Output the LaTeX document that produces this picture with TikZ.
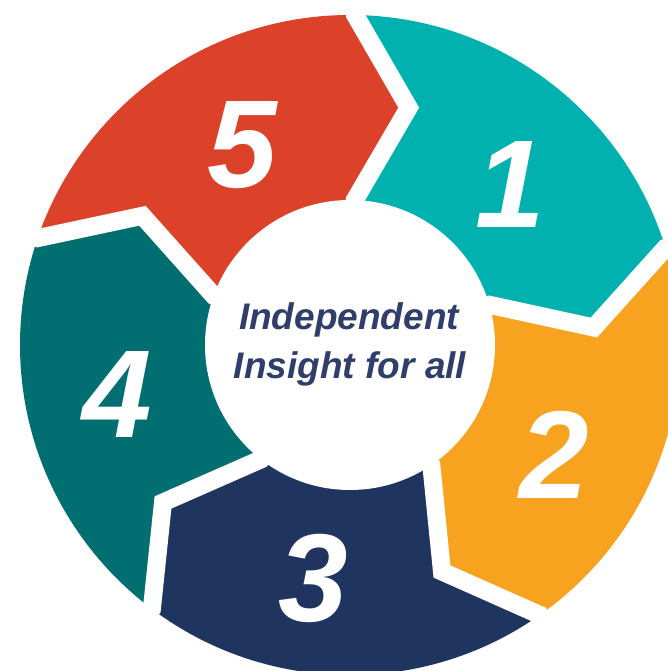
\documentclass[tikz,border=0pt]{standalone}
\usepackage{fontspec}
\setmainfont{Liberation Sans}
\definecolor{segA}{HTML}{00B1AF}
\definecolor{segB}{HTML}{F8A31F}
\definecolor{segC}{HTML}{1F3560}
\definecolor{segD}{HTML}{016F71}
\definecolor{segE}{HTML}{DC4229}
\definecolor{txtc}{HTML}{2F3E6B}
\tikzset{
  gapline/.style={white, line width=18, line join=miter, miter limit=10},
  digit/.style={text=white, inner sep=0pt, anchor=base, font=\fontsize{125}{125}\selectfont\bfseries\itshape},
  maintext/.style={text=txtc, inner sep=0pt, anchor=base, font=\fontsize{37}{37}\selectfont\bfseries\itshape}
}
\begin{document}
\begin{tikzpicture}[x=1pt,y=1pt]
\useasboundingbox (0,0) rectangle (668,671);
\clip (0,0) rectangle (668,671);
\begin{scope}[shift={(350,326)}]
  \begin{scope}
    \clip (0,0) circle (330);
    \foreach \c [count=\k] in {segA,segB,segC,segD,segE} {
      \pgfmathsetmacro\s{88.1-72*(\k-1)}
      \pgfmathsetmacro\e{\s-72}
      \fill[\c] (0,0) -- (\s:145) -- (\s-12:244.5) -- (\s+1:330) -- (\s+1:420)
        -- (\e+1:420) -- (\e+1:330) -- (\e-12:244.5) -- (\e:145) -- cycle;
    }
  \end{scope}
  \foreach \k in {0,...,4} {
    \pgfmathsetmacro\b{88.1-72*\k}
    \draw[gapline] (\b:120) -- (\b:145) -- (\b-12:244.5) -- (\b+1:330) -- (\b+1:430);
  }
  \fill[white] (0,0) circle (145);
\end{scope}
\node[maintext] (t1) at (349,341) {Independent};
\node[maintext] (t2) at (350,292) {Insight for all};
\node[digit] (n1) at (510,443) {1};
\node[digit] (n2) at (554,172) {2};
\node[digit] (n3) at (313,49) {3};
\node[digit] (n4) at (117,233) {4};
\node[digit] (n5) at (242,483.5) {5};
\end{tikzpicture}
\end{document}
